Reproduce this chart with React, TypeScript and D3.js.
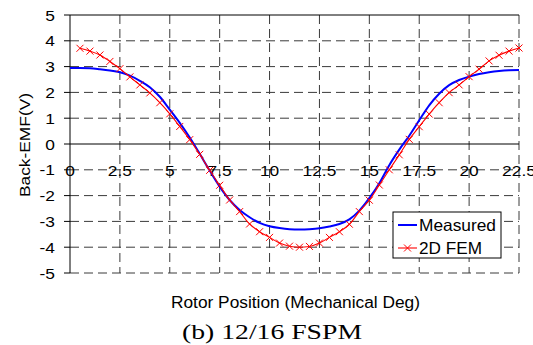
import React from "react";
import * as d3 from "d3";

const measuredX = [0, 0.5, 1, 1.5, 2, 2.5, 3, 3.5, 4, 4.5, 5, 5.5, 6, 6.5, 7, 7.5, 8, 8.5, 9, 9.5, 10, 10.5, 11, 11.5, 12, 12.5, 13, 13.5, 14, 14.5, 15, 15.5, 16, 16.5, 17, 17.5, 18, 18.5, 19, 19.5, 20, 20.5, 21, 21.5, 22, 22.5];
const measuredY = [2.95, 2.95, 2.94, 2.9, 2.85, 2.78, 2.65, 2.45, 2.2, 1.83, 1.33, 0.82, 0.25, -0.38, -1.03, -1.65, -2.17, -2.56, -2.84, -3.06, -3.19, -3.26, -3.3, -3.31, -3.3, -3.27, -3.2, -3.1, -2.92, -2.58, -2.1, -1.52, -0.82, -0.22, 0.32, 0.92, 1.5, 1.95, 2.28, 2.48, 2.61, 2.71, 2.78, 2.83, 2.86, 2.87];

const femX = [0.5, 1, 1.5, 2, 2.5, 3, 3.5, 4, 4.5, 5, 5.5, 6, 6.5, 7, 7.5, 8, 8.5, 9, 9.5, 10, 10.5, 11, 11.5, 12, 12.5, 13, 13.5, 14, 14.5, 15, 15.5, 16, 16.5, 17, 17.5, 18, 18.5, 19, 19.5, 20, 20.5, 21, 21.5, 22, 22.5];
const femY = [3.71, 3.6, 3.45, 3.2, 2.92, 2.6, 2.29, 1.98, 1.6, 1.17, 0.68, 0.17, -0.4, -1.02, -1.6, -2.17, -2.62, -3.1, -3.4, -3.62, -3.84, -3.96, -4.0, -3.97, -3.84, -3.62, -3.4, -3.11, -2.62, -2.18, -1.59, -1.0, -0.42, 0.18, 0.67, 1.16, 1.6, 1.99, 2.29, 2.61, 2.9, 3.22, 3.44, 3.6, 3.72];

const xTicks = [0, 2.5, 5, 7.5, 10, 12.5, 15, 17.5, 20, 22.5];
const yTicks = [5, 4, 3, 2, 1, 0, -1, -2, -3, -4, -5];
const seriesNames = ["Measured", "2D FEM"];

const W = 533, H = 345;
const x = d3.scaleLinear().domain([0, 22.5]).range([70, 519]);
const y = d3.scaleLinear().domain([-5, 5]).range([273, 15]);

const FONT = "Liberation Sans, Arial, sans-serif";
const GRID = "#3a3a3a";
const DASH = "9,5";

export default function App() {
  const line = d3.line<[number, number]>().x(d => x(d[0])).y(d => y(d[1])).curve(d3.curveMonotoneX);
  const mPts: [number, number][] = measuredX.map((v, i) => [v, measuredY[i]]);
  const fPts: [number, number][] = femX.map((v, i) => [v, femY[i]]);
  const xs = 1.12;
  const mk = 3.5;
  const cross = (cx: number, cy: number, key: string | number, col = "#ff0000") => (
    <path key={key} d={`M${cx - mk},${cy - mk}L${cx + mk},${cy + mk}M${cx - mk},${cy + mk}L${cx + mk},${cy - mk}`} stroke={col} strokeWidth={1} fill="none" />
  );
  return (
    <svg width={W} height={H} style={{ position: "absolute", left: 0, top: 0, background: "#fff" }} fontFamily={FONT}>
      <rect width={W} height={H} fill="#fff" />
      {yTicks.filter(t => t !== 0 && t !== 5).map(t => (
        <line key={"h" + t} x1={x(0)} x2={x(22.5)} y1={y(t)} y2={y(t)} stroke={GRID} strokeDasharray={DASH} />
      ))}
      {xTicks.filter(t => t !== 0).map(t => (
        <line key={"v" + t} x1={x(t)} x2={x(t)} y1={y(5)} y2={y(-5)} stroke={GRID} strokeDasharray={DASH} />
      ))}
      <line x1={x(0)} x2={x(22.5)} y1={y(5)} y2={y(5)} stroke="#000" />
      <line x1={x(0)} x2={x(22.5)} y1={y(0)} y2={y(0)} stroke="#000" />
      <line x1={x(0)} x2={x(0)} y1={y(5)} y2={y(-5)} stroke="#000" />
      {yTicks.map(t => (
        <line key={"yt" + t} x1={x(0) - 6} x2={x(0)} y1={y(t)} y2={y(t)} stroke="#000" />
      ))}
      {yTicks.map(t => (
        <text key={"yl" + t} transform={`translate(${x(0) - 15},${y(t) + 5.5}) scale(${xs},1)`} textAnchor="end" fontSize={15.5} fill="#000">{t}</text>
      ))}
      {xTicks.map(t => (
        <text key={"xl" + t} transform={`translate(${x(t)},${y(-1) + 6}) scale(${xs},1)`} textAnchor="middle" fontSize={15.5} fill="#000">{t}</text>
      ))}
      <path d={line(mPts) || ""} fill="none" stroke="#0000ff" strokeWidth={2} />
      <path d={line(fPts) || ""} fill="none" stroke="#ff0000" strokeWidth={1.1} />
      {fPts.map((p, i) => cross(x(p[0]), y(p[1]), i))}
      <rect x={393} y={212} width={108} height={46} fill="#fff" stroke="#000" />
      <line x1={398} x2={417} y1={225} y2={225} stroke="#0000ff" strokeWidth={2} />
      <line x1={398} x2={417} y1={248} y2={248} stroke="#ff0000" strokeWidth={1.1} />
      {cross(407.5, 248, "lg")}
      <text x={419} y={231} fontSize={16.5} textLength={77} lengthAdjust="spacingAndGlyphs">{seriesNames[0]}</text>
      <text x={419} y={254} fontSize={16.5} textLength={63} lengthAdjust="spacingAndGlyphs">{seriesNames[1]}</text>
      <text transform={`translate(30,145) rotate(-90)`} textAnchor="middle" fontSize={15.5} textLength={104} lengthAdjust="spacingAndGlyphs">Back-EMF(V)</text>
      <text x={295.5} y={308} textAnchor="middle" fontSize={16} textLength={249} lengthAdjust="spacingAndGlyphs">Rotor Position (Mechanical Deg)</text>
      <text x={272} y={339} textAnchor="middle" fontSize={21} fontFamily="Liberation Serif, Times New Roman, serif" textLength={180} lengthAdjust="spacingAndGlyphs">(b) 12/16 FSPM</text>
    </svg>
  );
}
